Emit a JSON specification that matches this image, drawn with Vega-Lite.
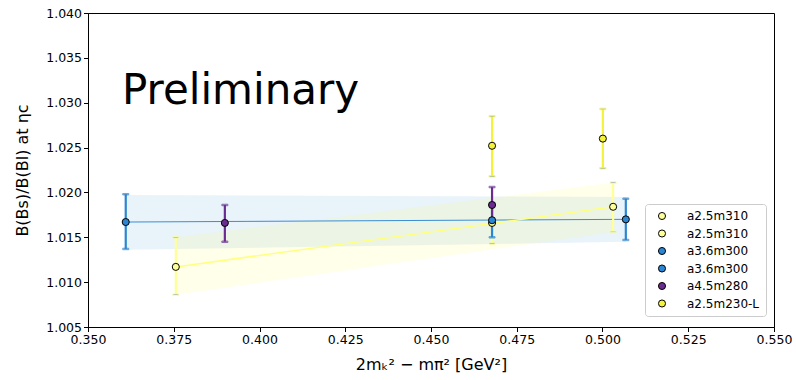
{
  "$schema": "https://vega.github.io/schema/vega-lite/v6.json",
  "width": 686,
  "height": 314,
  "autosize": "none",
  "padding": {"left": 88, "top": 13, "right": 22, "bottom": 53},
  "background": "white",
  "config": {
    "font": "DejaVu Sans",
    "view": {"stroke": "black", "strokeWidth": 1},
    "axis": {
      "grid": false,
      "labelFontSize": 12.5,
      "labelColor": "black",
      "titleColor": "black",
      "titleFontSize": 16,
      "titleFontWeight": "normal",
      "tickColor": "black",
      "domainColor": "black",
      "tickSize": 4.5,
      "labelPadding": 2,
      "labelFlush": false
    },
    "legend": {
      "labelFontSize": 12,
      "labelColor": "black"
    }
  },
  "datasets": {
    "pts": [
      {"series": "s1", "x": 0.3756, "y": 1.0117, "lo": 1.0086, "hi": 1.0150},
      {"series": "s2", "x": 0.4678, "y": 1.0166, "lo": 1.0143, "hi": 1.0189},
      {"series": "s1", "x": 0.5031, "y": 1.0184, "lo": 1.0156, "hi": 1.0211},
      {"series": "s3", "x": 0.3610, "y": 1.0167, "lo": 1.0137, "hi": 1.0198},
      {"series": "s4", "x": 0.4678, "y": 1.0169, "lo": 1.0150, "hi": 1.0188},
      {"series": "s3", "x": 0.5068, "y": 1.0170, "lo": 1.0147, "hi": 1.0193},
      {"series": "s5", "x": 0.3899, "y": 1.0166, "lo": 1.0145, "hi": 1.0186},
      {"series": "s5", "x": 0.4678, "y": 1.0186, "lo": 1.0166, "hi": 1.0206},
      {"series": "s6", "x": 0.4678, "y": 1.0252, "lo": 1.0218, "hi": 1.0285},
      {"series": "s6", "x": 0.5001, "y": 1.0260, "lo": 1.0227, "hi": 1.0293}
    ],
    "fit": [
      {"fit": "blue", "x": 0.3610, "y": 1.0167, "lo": 1.0136, "hi": 1.0197},
      {"fit": "blue", "x": 0.5068, "y": 1.0170, "lo": 1.0145, "hi": 1.0195},
      {"fit": "yellow", "x": 0.3756, "y": 1.0117, "lo": 1.0086, "hi": 1.0150},
      {"fit": "yellow", "x": 0.5031, "y": 1.0184, "lo": 1.0156, "hi": 1.0211}
    ],
    "label": [
      {"x": 0.3599, "y": 1.0299, "text": "Preliminary"}
    ]
  },
  "encoding": {
    "x": {"field": "x", "type": "quantitative", "scale": {"domain": [0.35, 0.55], "nice": false, "zero": false},
          "axis": {"values": [0.35, 0.375, 0.4, 0.425, 0.45, 0.475, 0.5, 0.525, 0.55], "format": ".3f", "title": "2mₖ² − mπ² [GeV²]", "titlePadding": 10}}
  },
  "layer": [
    {
      "data": {"name": "fit"},
      "transform": [{"filter": "datum.fit == 'blue'"}],
      "mark": {"type": "area", "color": "#2a86d2", "opacity": 0.1},
      "encoding": {
        "y": {"field": "lo", "type": "quantitative", "scale": {"domain": [1.005, 1.04], "nice": false, "zero": false},
              "axis": {"values": [1.005, 1.01, 1.015, 1.02, 1.025, 1.03, 1.035, 1.04], "format": ".3f", "title": "B(Bs)/B(Bl) at ηc", "titlePadding": 15}},
        "y2": {"field": "hi"}
      }
    },
    {
      "data": {"name": "fit"},
      "transform": [{"filter": "datum.fit == 'yellow'"}],
      "mark": {"type": "area", "color": "#ffff33", "opacity": 0.1},
      "encoding": {
        "y": {"field": "lo", "type": "quantitative", "title": "B(Bs)/B(Bl) at ηc"},
        "y2": {"field": "hi"}
      }
    },
    {
      "data": {"name": "fit"},
      "transform": [{"filter": "datum.fit == 'blue'"}],
      "mark": {"type": "line", "color": "#3a8ed4", "strokeWidth": 1},
      "encoding": {
        "y": {"field": "y", "type": "quantitative", "title": "B(Bs)/B(Bl) at ηc"}
      }
    },
    {
      "data": {"name": "fit"},
      "transform": [{"filter": "datum.fit == 'yellow'"}],
      "mark": {"type": "line", "color": "#ffff80", "strokeWidth": 1.5},
      "encoding": {
        "y": {"field": "y", "type": "quantitative", "title": "B(Bs)/B(Bl) at ηc"}
      }
    },
    {
      "data": {"name": "pts"},
      "mark": {"type": "rule", "strokeWidth": 2.2},
      "encoding": {
        "y": {"field": "lo", "type": "quantitative", "title": "B(Bs)/B(Bl) at ηc"},
        "y2": {"field": "hi"},
        "stroke": {"field": "series", "type": "nominal", "legend": null,
                   "scale": {"domain": ["s6", "s5", "s4", "s3", "s2", "s1"], "range": ["#f5f23a", "#6a2c91", "#2a86d2", "#2a86d2", "#ffff99", "#ffff99"]}}
      }
    },
    {
      "data": {"name": "pts"},
      "mark": {"type": "tick", "orient": "horizontal", "size": 6, "thickness": 1.5},
      "encoding": {
        "y": {"field": "lo", "type": "quantitative", "title": "B(Bs)/B(Bl) at ηc"},
        "stroke": {"field": "series", "type": "nominal", "legend": null}
      }
    },
    {
      "data": {"name": "pts"},
      "mark": {"type": "tick", "orient": "horizontal", "size": 6, "thickness": 1.5},
      "encoding": {
        "y": {"field": "hi", "type": "quantitative", "title": "B(Bs)/B(Bl) at ηc"},
        "stroke": {"field": "series", "type": "nominal", "legend": null}
      }
    },
    {
      "data": {"name": "pts"},
      "mark": {"type": "point", "filled": true, "stroke": "black", "strokeWidth": 1, "size": 50, "opacity": 1},
      "encoding": {
        "y": {"field": "y", "type": "quantitative", "title": "B(Bs)/B(Bl) at ηc"},
        "fill": {"field": "series", "type": "nominal",
                 "scale": {"domain": ["s1", "s2", "s3", "s4", "s5", "s6"], "range": ["#ffff99", "#ffff99", "#2a86d2", "#2a86d2", "#6a2c91", "#f5f23a"]},
                 "legend": {
                   "title": null,
                   "orient": "none",
                   "legendX": 557,
                   "legendY": 191,
                   "direction": "vertical",
                   "fillColor": "white",
                   "strokeColor": "#cccccc",
                   "cornerRadius": 3,
                   "padding": 6,
                   "rowPadding": 5.5,
                   "symbolType": "circle",
                   "symbolSize": 50,
                   "symbolOffset": 5,
                   "symbolStrokeColor": "black",
                   "symbolStrokeWidth": 1,
                   "labelOffset": 19,
                   "labelExpr": "datum.label == 's1' || datum.label == 's2' ? 'a2.5m310' : (datum.label == 's3' || datum.label == 's4' ? 'a3.6m300' : (datum.label == 's5' ? 'a4.5m280' : 'a2.5m230-L'))"
                 }}
      }
    },
    {
      "data": {"name": "label"},
      "mark": {"type": "text", "align": "left", "baseline": "alphabetic", "fontSize": 42, "color": "black"},
      "encoding": {
        "y": {"field": "y", "type": "quantitative", "title": "B(Bs)/B(Bl) at ηc"},
        "text": {"field": "text"}
      }
    }
  ]
}
